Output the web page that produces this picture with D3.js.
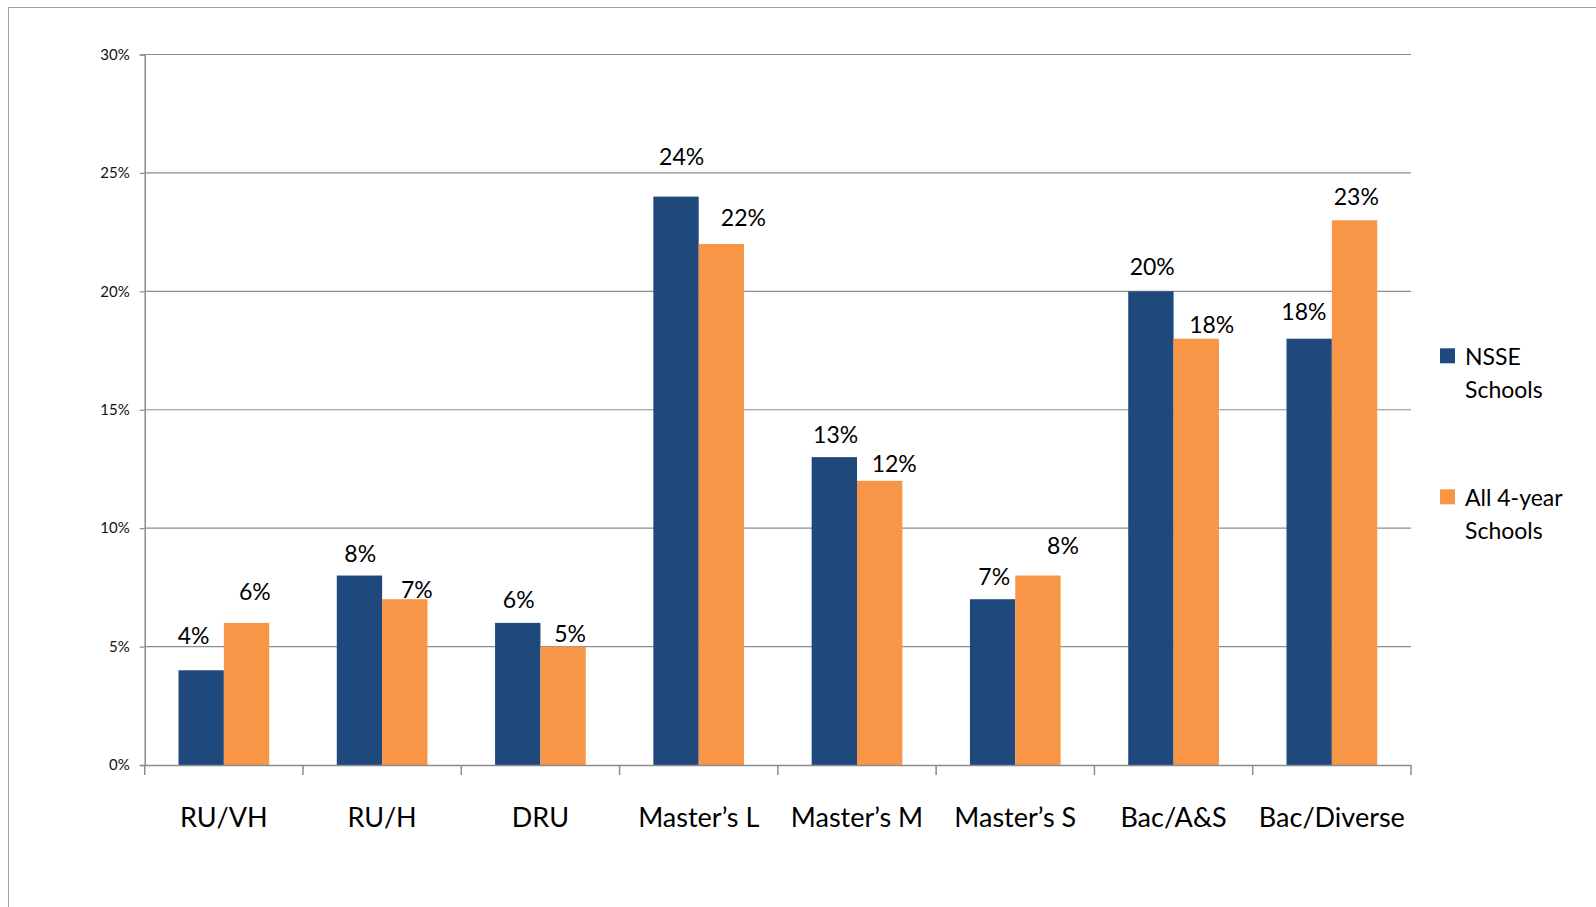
<!DOCTYPE html>
<html>
<head>
<meta charset="utf-8">
<script src="https://cdn.jsdelivr.net/npm/d3@7"></script>
<style>
  html, body { margin: 0; padding: 0; background: #fff; }
  svg { display: block; font-family: Lato, "Open Sans", sans-serif; }
</style>
</head>
<body>
<svg id="chart" width="1596" height="907"></svg>
<script>
// Share of institutions by Carnegie classification
const categories = ["RU/VH", "RU/H", "DRU", "Master\u2019s L", "Master\u2019s M", "Master\u2019s S", "Bac/A&S", "Bac/Diverse"];
const seriesNames = ["NSSE Schools", "All 4-year Schools"];
const nsseValues = [4, 8, 6, 24, 13, 7, 20, 18];
const allValues = [6, 7, 5, 22, 12, 8, 18, 23];
const yTicks = [0, 5, 10, 15, 20, 25, 30];

// Hand placement of the value labels (pixel offsets from the bar top centre)
const nsseLabelDx = [-7.5, 0.8, 1, 5.6, 1.3, 1.6, 1.3, -5.3];
const nsseLabelGap = [26, 13.4, 14.7, 32, 14, 14, 16, 19];
const allLabelDx = [8.3, 12, 7, 22, 14.6, 25, 15.5, 1.8];
const allLabelGap = [23, 1, 5, 18, 8.7, 22, 5.6, 15.6];

const colors = ["#1F497D", "#F79646"];
const gridColor = "#8c8c8c";

const svg = d3.select("#chart");

// outer frame (right and bottom edges fall outside the page)
svg.append("rect")
  .attr("x", 8.5).attr("y", 7.5)
  .attr("width", 1620).attr("height", 940)
  .attr("fill", "none").attr("stroke", "#a0a0a0").attr("stroke-width", 1);

const plotLeft = 144.7, plotRight = 1411, plotTop = 54.5, plotBottom = 765;

const x0 = d3.scaleBand().domain(categories).range([plotLeft, plotRight]).padding(0);
const groupPad = 33.8;
const x1 = d3.scaleBand().domain(seriesNames)
  .range([groupPad, x0.bandwidth() - groupPad]).padding(0);
const y = d3.scaleLinear().domain([0, 30]).range([plotBottom, plotTop]);

// horizontal gridlines
svg.append("g")
  .selectAll("line")
  .data(yTicks.filter(t => t > 0))
  .join("line")
  .attr("x1", plotLeft).attr("x2", plotRight)
  .attr("y1", d => y(d)).attr("y2", d => y(d))
  .attr("stroke", gridColor).attr("stroke-width", 1.2);

// y axis
const yAxis = d3.axisLeft(y)
  .tickValues(yTicks)
  .tickFormat(d => d + "%")
  .tickSize(5)
  .tickPadding(10);
const gy = svg.append("g").attr("transform", `translate(${plotLeft},0)`).call(yAxis);
gy.select(".domain").attr("stroke", gridColor).attr("stroke-width", 1.5);
gy.selectAll(".tick line").attr("stroke", gridColor).attr("stroke-width", 1.2);
gy.selectAll(".tick text")
  .attr("font-family", "Lato, sans-serif")
  .attr("font-size", 15).attr("fill", "#111");

// bars
const rows = categories.map((c, i) => ({ cat: c, i, vals: [nsseValues[i], allValues[i]] }));
const groups = svg.append("g")
  .selectAll("g")
  .data(rows)
  .join("g")
  .attr("transform", d => `translate(${x0(d.cat)},0)`);

groups.selectAll("rect")
  .data(d => d.vals.map((v, k) => ({ name: seriesNames[k], k, v, i: d.i })))
  .join("rect")
  .attr("x", d => x1(d.name))
  .attr("y", d => y(d.v))
  .attr("width", x1.bandwidth())
  .attr("height", d => y(0) - y(d.v))
  .attr("fill", d => colors[d.k]);

// value labels
groups.selectAll("text.val")
  .data(d => d.vals.map((v, k) => ({ name: seriesNames[k], k, v, i: d.i })))
  .join("text")
  .attr("class", "val")
  .attr("x", d => x1(d.name) + x1.bandwidth() / 2 + (d.k === 0 ? nsseLabelDx[d.i] : allLabelDx[d.i]))
  .attr("y", d => y(d.v) - (d.k === 0 ? nsseLabelGap[d.i] : allLabelGap[d.i]))
  .attr("text-anchor", "middle")
  .attr("font-size", 23)
  .attr("fill", "#000")
  .text(d => d.v + "%");

// x axis
const xAxis = d3.axisBottom(x0).tickSize(0).tickPadding(0);
const gx = svg.append("g").attr("transform", `translate(0,${plotBottom})`).call(xAxis);
gx.select(".domain").attr("stroke", gridColor).attr("stroke-width", 1.5);
gx.selectAll(".tick text")
  .attr("y", 62)
  .attr("dy", 0)
  .attr("font-family", "Lato, sans-serif")
  .attr("font-size", 27).attr("fill", "#000");

// category separator ticks
const boundaries = categories.map(c => x0(c)).concat([plotRight]);
gx.append("g")
  .selectAll("line")
  .data(boundaries)
  .join("line")
  .attr("x1", d => d).attr("x2", d => d)
  .attr("y1", 0).attr("y2", 10)
  .attr("stroke", gridColor).attr("stroke-width", 1.5);

// legend
const legend = svg.append("g");
const legendRows = [
  { lines: ["NSSE", "Schools"], y: 348.3 },
  { lines: ["All 4-year", "Schools"], y: 489.3 }
];
legendRows.forEach((r, k) => {
  legend.append("rect")
    .attr("x", 1440).attr("y", r.y)
    .attr("width", 15).attr("height", 15)
    .attr("fill", colors[k]);
  legend.append("text")
    .attr("x", 1465).attr("y", r.y + 16.7)
    .attr("font-size", 23).attr("fill", "#000")
    .selectAll("tspan")
    .data(r.lines)
    .join("tspan")
    .attr("x", 1465)
    .attr("dy", (d, j) => j === 0 ? 0 : 33.3)
    .text(d => d);
});
</script>
</body>
</html>
